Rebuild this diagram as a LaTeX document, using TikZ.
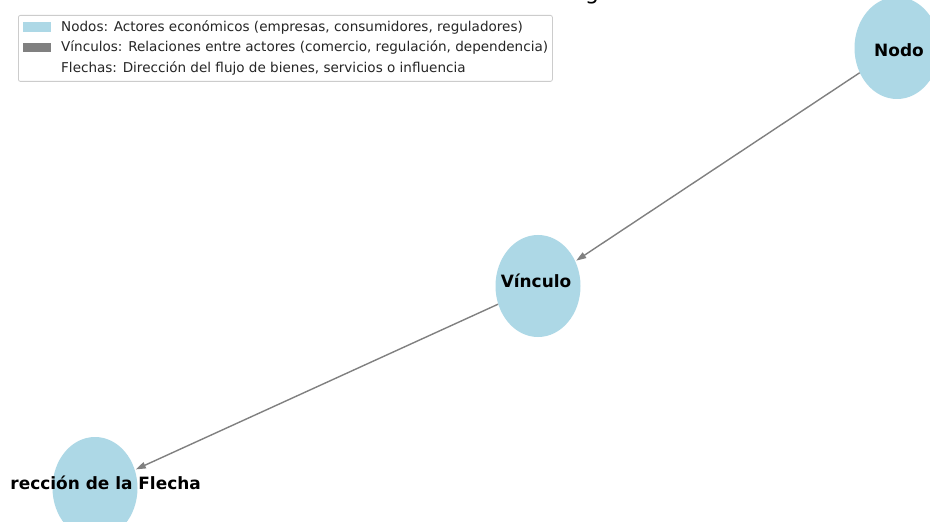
\documentclass[tikz,border=0pt]{standalone}
\usepackage{fontspec}
\setmainfont{DejaVu Sans}
\usetikzlibrary{arrows.meta,shapes.geometric}
\definecolor{nodeblue}{HTML}{ADD8E6}
\definecolor{edgegray}{HTML}{808080}
\definecolor{legendframe}{HTML}{CCCCCC}
\tikzset{
  actor/.style={ellipse, fill=nodeblue, minimum width=85bp, minimum height=102bp, inner sep=0pt},
  actorlabel/.style={inner sep=0pt, font=\fontsize{17}{18}\selectfont\bfseries, text=black},
  link/.style={draw=edgegray, line width=1.4bp, -{Triangle[length=10bp,width=6.5bp]}, shorten >=1bp},
  legendtext/.style={anchor=west, font=\fontsize{13.6}{15}\selectfont, text=black!85, inner sep=0pt},
  patch/.style={anchor=west, minimum width=28bp, minimum height=9.5bp, inner sep=0pt},
}
\begin{document}
\begin{tikzpicture}[x=1bp,y=-1bp]
\clip (0,0) rectangle (930,522);
\fill[white] (0,0) rectangle (930,522);
% title fragment (cut off at top)
\node[anchor=base west, inner sep=0pt, font=\fontsize{22}{26}\selectfont] (title) at (585,0) {g};
% nodes
\node[actor] (nodo) at (897,48) {};
\node[actor] (vinculo) at (538,286) {};
\node[actor] (flecha) at (95,488) {};
\node[actorlabel] (nodolbl) at (899,50) {Nodo};
\node[actorlabel] (vinculolbl) at (536,281) {Vínculo};
\begin{scope}
\clip (10,0) rectangle (930,522);
\node[actorlabel, anchor=east] (flechalbl) at (201,483) {Dirección de la Flecha};
\end{scope}
% edges
\draw[link] (nodo) -- (vinculo);
\draw[link] (vinculo) -- (flecha);
% legend
\node[draw=legendframe, fill=white, rounded corners=2bp, line width=0.8bp, anchor=north west,
      minimum width=534bp, minimum height=66bp, inner sep=0pt] (legend) at (18,15) {};
\node[patch, fill=nodeblue] (p1) at (23,27) {};
\node[patch, fill=edgegray] (p2) at (23,47.5) {};
\node[legendtext] (t1) at (61,27) {Nodos: Actores económicos (empresas, consumidores, reguladores)};
\node[legendtext] (t2) at (61,47.5) {Vínculos: Relaciones entre actores (comercio, regulación, dependencia)};
\node[legendtext] (t3) at (61,68) {Flechas: Dirección del flujo de bienes, servicios o influencia};
\end{tikzpicture}
\end{document}
